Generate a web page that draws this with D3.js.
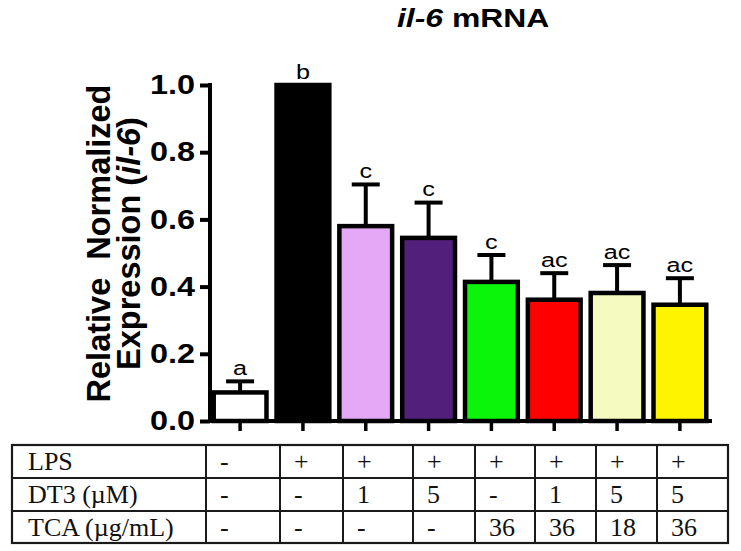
<!DOCTYPE html>
<html>
<head>
<meta charset="utf-8">
<script src="https://cdn.jsdelivr.net/npm/d3@7"></script>
<style>
  html, body { margin: 0; padding: 0; background: #fff; }
  svg { display: block; }
</style>
</head>
<body>
<svg id="chart" width="741" height="551"></svg>
<script>
// ---- data ----
const categories = ["Control", "LPS", "LPS+DT3 1", "LPS+DT3 5", "LPS+TCA 36", "LPS+DT3 1+TCA 36", "LPS+DT3 5+TCA 18", "LPS+DT3 5+TCA 36"];
const means = [0.085, 1.0, 0.58, 0.545, 0.414, 0.361, 0.381, 0.346];
const errors = [0.033, 0, 0.124, 0.105, 0.080, 0.079, 0.083, 0.079];
const letters = ["a", "b", "c", "c", "c", "ac", "ac", "ac"];
const barColors = ["#ffffff", "#000000", "#e4a8f6", "#521f7a", "#0bf50b", "#fe0000", "#f4fac0", "#fff400"];
const yTicks = [0, 0.2, 0.4, 0.6, 0.8, 1.0];
const rowLabels = ["LPS", "DT3 (\u00b5M)", "TCA (\u00b5g/mL)"];
const lpsRow = ["-", "+", "+", "+", "+", "+", "+", "+"];
const dt3Row = ["-", "-", "1", "5", "-", "1", "5", "5"];
const tcaRow = ["-", "-", "-", "-", "36", "36", "18", "36"];

// ---- layout ----
const svg = d3.select("#chart");
const SX = 1.2; // horizontal stretch of chart lettering
const x = d3.scaleBand().domain(categories).range([209, 711]).paddingInner(0.16).paddingOuter(0.075);
const y = d3.scaleLinear().domain([0, 1]).range([421, 85]);

// title
const title = svg.append("g").attr("transform", "translate(397,27) scale(1.25,1)")
  .append("text")
  .attr("font-family", "Liberation Sans, Arial, sans-serif")
  .attr("font-weight", "bold")
  .attr("font-size", 25.5)
  .attr("fill", "#000");
title.append("tspan").attr("font-style", "italic").text("il-6");
title.append("tspan").text(" mRNA");

// y axis title
const yt = svg.append("g").attr("transform", "translate(0,243.5) rotate(-90)")
  .attr("font-family", "Liberation Sans, Arial, sans-serif")
  .attr("font-weight", "bold")
  .attr("font-size", 32.5)
  .attr("text-anchor", "middle");
yt.append("text").attr("x", 0).attr("y", 110).attr("xml:space", "preserve").text("Relative  Normalized");
const l2 = yt.append("text").attr("x", 0).attr("y", 140);
l2.append("tspan").text("Expression (");
l2.append("tspan").attr("font-style", "italic").text("il-6");
l2.append("tspan").text(")");

// bars
svg.append("g").selectAll("rect").data(categories).join("rect")
  .attr("x", d => x(d))
  .attr("width", x.bandwidth())
  .attr("y", (d, i) => y(means[i]))
  .attr("height", (d, i) => y(0) - y(means[i]))
  .attr("fill", (d, i) => barColors[i])
  .attr("stroke", "#000")
  .attr("stroke-width", 4.5);

// error bars
const eb = svg.append("g").attr("stroke", "#000").attr("stroke-width", 4);
categories.forEach((c, i) => {
  if (errors[i] <= 0) return;
  const cx = x(c) + x.bandwidth() / 2;
  eb.append("line").attr("x1", cx).attr("x2", cx).attr("y1", y(means[i])).attr("y2", y(means[i] + errors[i]));
  eb.append("line").attr("x1", cx - 14).attr("x2", cx + 14).attr("y1", y(means[i] + errors[i])).attr("y2", y(means[i] + errors[i]));
});

// significance letters
categories.forEach((c, i) => {
  const cx = x(c) + x.bandwidth() / 2;
  svg.append("g").attr("transform", `translate(${cx},${y(means[i] + errors[i]) - 6.5}) scale(${SX},1)`)
    .append("text")
    .attr("text-anchor", "middle")
    .attr("font-family", "Liberation Sans, Arial, sans-serif")
    .attr("font-size", 21)
    .text(letters[i]);
});

// y axis
const yAxis = svg.append("g").attr("transform", "translate(210,0)")
  .call(d3.axisLeft(y).tickValues(yTicks).tickSize(10).tickSizeOuter(0).tickFormat(d3.format(".1f")));
yAxis.select(".domain").attr("stroke", "#000").attr("stroke-width", 4).attr("d", `M0,${y(0) + 2}V${y(1) - 2}`);
yAxis.selectAll(".tick line").attr("stroke", "#000").attr("stroke-width", 4);
yAxis.selectAll(".tick text")
  .attr("font-family", "Liberation Sans, Arial, sans-serif")
  .attr("font-weight", "bold")
  .attr("font-size", 27)
  .attr("fill", "#000")
  .attr("x", -12.5)
  .attr("transform", `scale(${SX},1)`);

// x axis
const xAxis = svg.append("g").attr("transform", `translate(0,${y(0)})`)
  .call(d3.axisBottom(x).tickSize(10).tickSizeOuter(0).tickFormat(""));
xAxis.select(".domain").attr("stroke", "#000").attr("stroke-width", 4).attr("d", "M208,0H712");
xAxis.selectAll(".tick line").attr("stroke", "#000").attr("stroke-width", 3.5);

// table
const colEdges = [12, 206, 280, 343, 413, 475, 535, 596, 657, 728];
const rowEdges = [445, 478, 511, 543];
const tableRows = [lpsRow, dt3Row, tcaRow];
const tg = svg.append("g");
tg.append("rect").attr("x", colEdges[0]).attr("y", rowEdges[0])
  .attr("width", colEdges[colEdges.length - 1] - colEdges[0])
  .attr("height", rowEdges[rowEdges.length - 1] - rowEdges[0])
  .attr("fill", "none").attr("stroke", "#1a1a1a").attr("stroke-width", 2.2);
rowEdges.slice(1, -1).forEach(ry => {
  tg.append("line").attr("x1", colEdges[0]).attr("x2", colEdges[colEdges.length - 1]).attr("y1", ry).attr("y2", ry)
    .attr("stroke", "#1a1a1a").attr("stroke-width", 2);
});
colEdges.slice(1, -1).forEach(cx => {
  tg.append("line").attr("x1", cx).attr("x2", cx).attr("y1", rowEdges[0]).attr("y2", rowEdges[rowEdges.length - 1])
    .attr("stroke", "#1a1a1a").attr("stroke-width", 2);
});
rowLabels.forEach((lab, r) => {
  const by = rowEdges[r] + 24.5;
  tg.append("text").attr("x", colEdges[0] + 16).attr("y", by)
    .attr("font-family", "Liberation Serif, Times New Roman, serif").attr("font-size", 26).attr("fill", "#111")
    .text(lab);
  tableRows[r].forEach((v, j) => {
    tg.append("text").attr("x", colEdges[j + 1] + 14).attr("y", by)
      .attr("font-family", "Liberation Serif, Times New Roman, serif").attr("font-size", 26).attr("fill", "#111")
      .text(v);
  });
});
</script>
</body>
</html>
